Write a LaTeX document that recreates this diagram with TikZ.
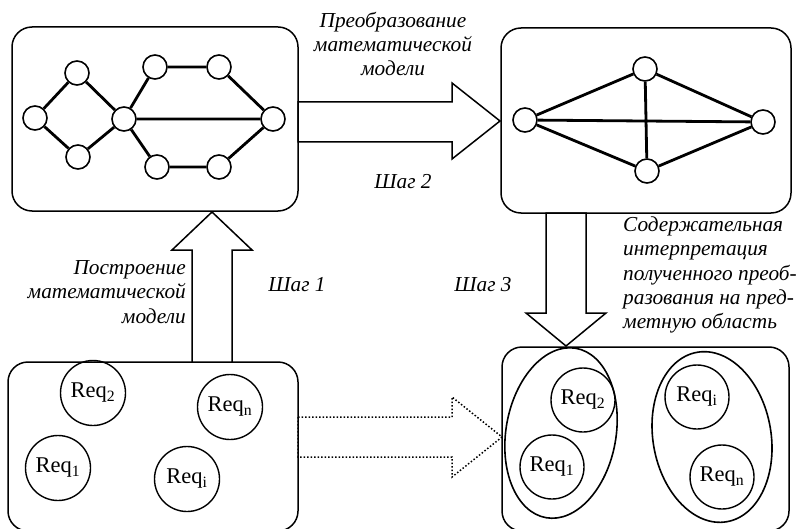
\documentclass[tikz,border=0pt]{standalone}
\usepackage{fontspec}
\setmainfont{Liberation Serif}
\usetikzlibrary{shapes.geometric}
\begin{document}
\begin{tikzpicture}[x=1pt,y=-1pt,
 box/.style={draw, line width=1.5pt, rounded corners=20pt},
 gn/.style={circle, draw, line width=1.6pt, fill=white, minimum size=24pt, inner sep=0pt},
 ge/.style={line width=2.8pt},
 req/.style={circle, draw, line width=1.4pt, minimum size=65pt, inner sep=0pt, font=\fontsize{22.5}{22.5}\selectfont},
 grp/.style={ellipse, draw, line width=1.6pt, inner sep=0pt},
 bigarrow/.style={draw, line width=1.5pt, fill=white, line join=miter},
 dotarrow/.style={draw, line width=1.5pt, dotted, line join=miter},
 lbl/.style={font=\itshape\fontsize{21.3}{24.3}\selectfont, inner sep=0pt},
]
\useasboundingbox (0,0) rectangle (799,529);

% boxes
\draw[box] (12,27) rectangle (298,211);
\draw[box] (501,28) rectangle (791,213);
\draw[box] (8,362) rectangle (298,531);
\draw[box] (502,347) rectangle (789,531);

% big arrows
\draw[bigarrow] (298,102) -- (452,102) -- (452,83) -- (500,121) -- (452,159) -- (452,142) -- (298,142) -- cycle;
\draw[bigarrow] (192,362) -- (192,250) -- (172,250) -- (212,212) -- (252,250) -- (232,250) -- (232,362) -- cycle;
\draw[bigarrow] (546,213) -- (546,313) -- (526,313) -- (566,346) -- (606,313) -- (586,313) -- (586,213) -- cycle;
\draw[dotarrow] (298,417) -- (452,417) -- (452,397) -- (502,437) -- (452,477) -- (452,457) -- (298,457) -- cycle;

% graph 1
\node[gn] (a1) at (35,118) {};
\node[gn] (a2) at (77,73) {};
\node[gn] (a3) at (78,157) {};
\node[gn] (a4) at (124,119) {};
\node[gn] (a5) at (155,67) {};
\node[gn] (a6) at (219,67) {};
\node[gn] (a7) at (157,167) {};
\node[gn] (a8) at (219,167) {};
\node[gn] (a9) at (273,119) {};
\draw[ge] (a1) -- (a2) (a1) -- (a3) (a2) -- (a4) (a3) -- (a4)
  (a4) -- (a5) (a5) -- (a6) (a6) -- (a9) (a4) -- (a9)
  (a4) -- (a7) (a7) -- (a8) (a8) -- (a9);

% graph 2
\node[gn] (b1) at (525,120) {};
\node[gn] (b2) at (645,69) {};
\node[gn] (b3) at (647,171) {};
\node[gn] (b4) at (763,122) {};
\draw[ge] (b1) -- (b2) (b1) -- (b3) (b1) -- (b4) (b2) -- (b3) (b2) -- (b4) (b3) -- (b4);

% requirements, left
\node[req] (l2) at (93,393) {Req\textsubscript{2}};
\node[req] (ln) at (230,407) {Req\textsubscript{n}};
\node[req] (l1) at (58,468) {Req\textsubscript{1}};
\node[req] (li) at (187,479) {Req\textsubscript{i}};

% requirements, right
\node[grp, minimum width=110pt, minimum height=172pt, rotate=-10] (g1) at (561,433) {};
\node[grp, minimum width=118pt, minimum height=172pt, rotate=10] (g2) at (712,437) {};
\node[req, minimum size=64pt] (r2) at (583,400) {Req\textsubscript{2}};
\node[req, minimum size=64pt] (r1) at (552,467) {Req\textsubscript{1}};
\node[req, minimum size=64pt] (ri) at (697,397) {Req\textsubscript{i}};
\node[req, minimum size=64pt] (rn) at (722,477) {Req\textsubscript{n}};

% labels
\node[lbl, align=center] (t2) at (393,44) {Преобразование\\математической\\модели};
\node[lbl] (s2) at (403,182) {Шаг 2};
\node[lbl, align=right, anchor=east] (t1) at (186,292) {Построение\\математической\\модели};
\node[lbl] (s1) at (297,285) {Шаг 1};
\node[lbl] (s3) at (483,285) {Шаг 3};
\node[lbl, align=left, anchor=west] (t3) at (623,275) {Содержательная\\интерпретация\\полученного преоб-\\разования на пред-\\метную область};
\end{tikzpicture}
\end{document}
